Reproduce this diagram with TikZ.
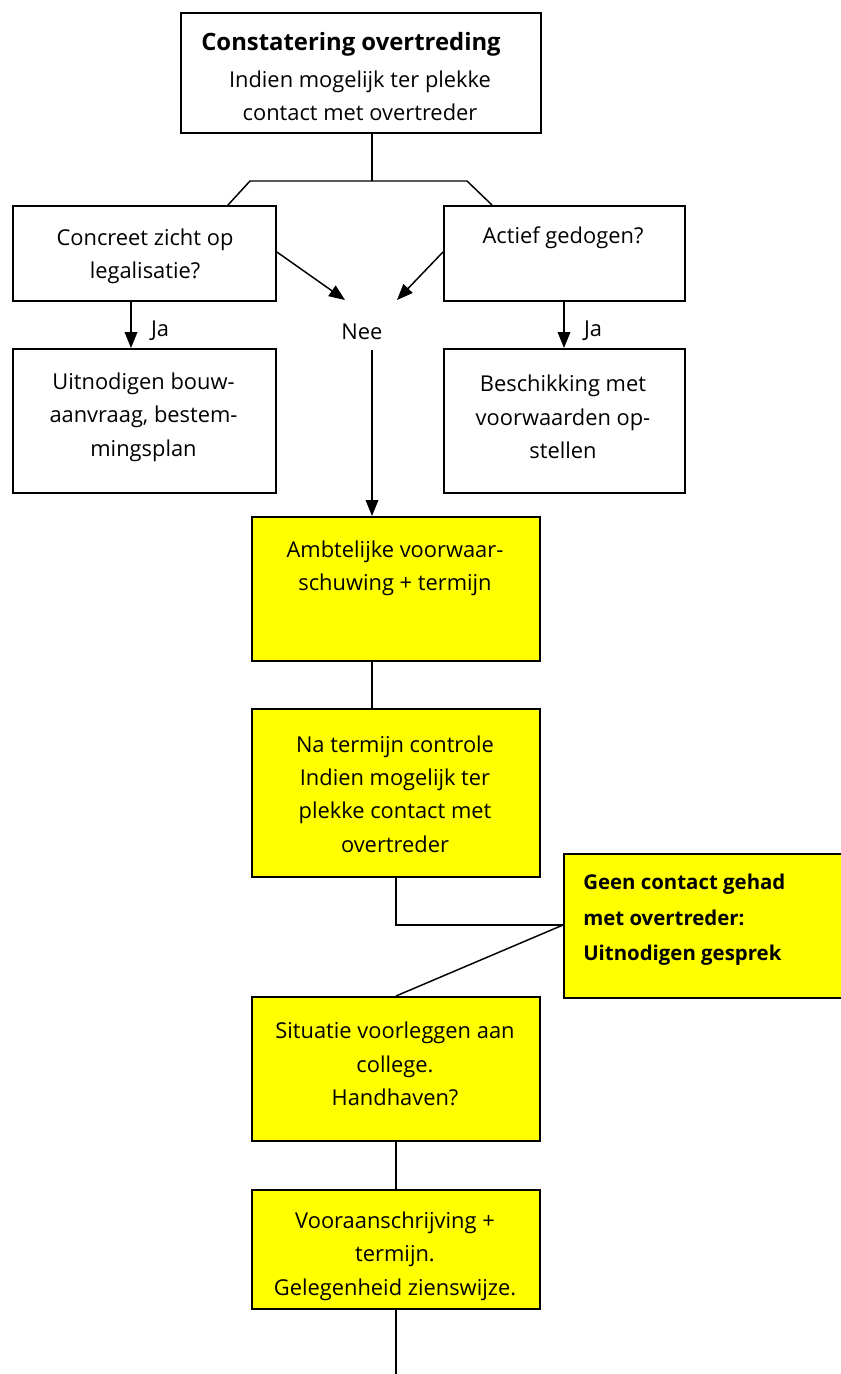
\documentclass[tikz,border=0pt]{standalone}
\usepackage{fontspec}
\setmainfont{Open Sans}
\usetikzlibrary{arrows.meta}
\definecolor{boxyellow}{RGB}{255,255,0}
\begin{document}
\begin{tikzpicture}[x=0.75pt,y=-0.75pt,
  box/.style={draw=black,line width=1.4pt,inner sep=0pt,anchor=north west},
  ybox/.style={box,fill=boxyellow},
  txt/.style={align=center,inner sep=0pt,font=\fontsize{16.4}{25}\selectfont},
  btxt/.style={align=left,inner sep=0pt,font=\fontsize{15.3}{26.5}\selectfont\bfseries},
  conn/.style={draw=black,line width=1.1pt},
  arr/.style={conn,-{Triangle[length=12pt,width=9.5pt]}},
  lab/.style={inner sep=0pt,font=\fontsize{16.4}{18}\selectfont}]
\useasboundingbox (0,0) rectangle (841,1374);

% boxes
\node[box,minimum width=270pt,minimum height=90pt] (top) at (180,12) {};
\node[box,minimum width=197.25pt,minimum height=71.25pt] (legal) at (12,205) {};
\node[box,minimum width=180.75pt,minimum height=71.25pt] (gedoog) at (443,205) {};
\node[box,minimum width=197.25pt,minimum height=108pt] (bouw) at (12,348) {};
\node[box,minimum width=180.75pt,minimum height=108pt] (besch) at (443,348) {};
\node[ybox,minimum width=216pt,minimum height=108pt] (ambt) at (251,516) {};
\node[ybox,minimum width=216pt,minimum height=126pt] (contr) at (251,708) {};
\node[ybox,minimum width=209.25pt,minimum height=108pt] (geen) at (563,853) {};
\node[ybox,minimum width=216pt,minimum height=108pt] (coll) at (251,996) {};
\node[ybox,minimum width=216pt,minimum height=89.25pt] (voor) at (251,1189) {};

% texts
\node[inner sep=0pt,font=\fontsize{17.9}{20}\selectfont\bfseries] (topT) at (351,44) {Constatering overtreding};
\node[txt] (topS) at (360,96) {Indien mogelijk ter plekke\\contact met overtreder};
\node[txt] (legalT) at (145,256) {Concreet zicht op\\legalisatie?};
\node[txt] (gedoogT) at (563,238) {Actief gedogen?};
\node[txt] (bouwT) at (143.5,417) {Uitnodigen bouw-\\aanvraag, bestem-\\mingsplan};
\node[txt] (beschT) at (563,417) {Beschikking met\\voorwaarden op-\\stellen};
\node[txt] (ambtT) at (395,568) {Ambtelijke voorwaar-\\schuwing + termijn};
\node[txt] (contrT) at (395,794) {Na termijn controle\\Indien mogelijk ter\\plekke contact met\\overtreder};
\node[btxt,anchor=west] (geenT) at (583,920) {Geen contact gehad\\met overtreder:\\Uitnodigen gesprek};
\node[txt] (collT) at (395,1064) {Situatie voorleggen aan\\college.\\Handhaven?};
\node[txt] (voorT) at (395,1256) {Vooraanschrijving +\\termijn.\\Gelegenheid zienswijze.};

% labels
\node[lab] (nee) at (362,332) {Nee};
\node[lab] (ja1) at (160,331) {Ja};
\node[lab] (ja2) at (593,331) {Ja};

% connector points
\coordinate (fork) at (372,181);
\coordinate (forkL) at (250,181);
\coordinate (forkR) at (467,181);
\coordinate (neeL) at (345,300);
\coordinate (neeR) at (397,300);
\coordinate (neeB) at (372,350);
\coordinate (elbow) at (396,925);
\coordinate (end) at (396,1374);

% connectors
\draw[conn] (top.south -| fork) -- (fork);
\draw[conn] (legal.north -| 228,0) -- (forkL) -- (forkR) -- (gedoog.north -| 492,0);
\draw[arr] (legal.east |- 0,252) -- (neeL);
\draw[arr] (gedoog.west |- 0,252) -- (neeR);
\draw[arr] (legal.south -| 131,0) -- (bouw.north -| 131,0);
\draw[arr] (gedoog.south -| 564,0) -- (besch.north -| 564,0);
\draw[arr] (neeB) -- (ambt.north -| neeB);
\draw[conn] (ambt.south -| 372,0) -- (contr.north -| 372,0);
\draw[conn] (contr.south -| elbow) -- (elbow) -- (geen.west |- elbow);
\draw[conn] (geen.west |- elbow) -- (coll.north -| elbow);
\draw[conn] (coll.south -| elbow) -- (voor.north -| elbow);
\draw[conn] (voor.south -| end) -- (end);
\end{tikzpicture}
\end{document}
